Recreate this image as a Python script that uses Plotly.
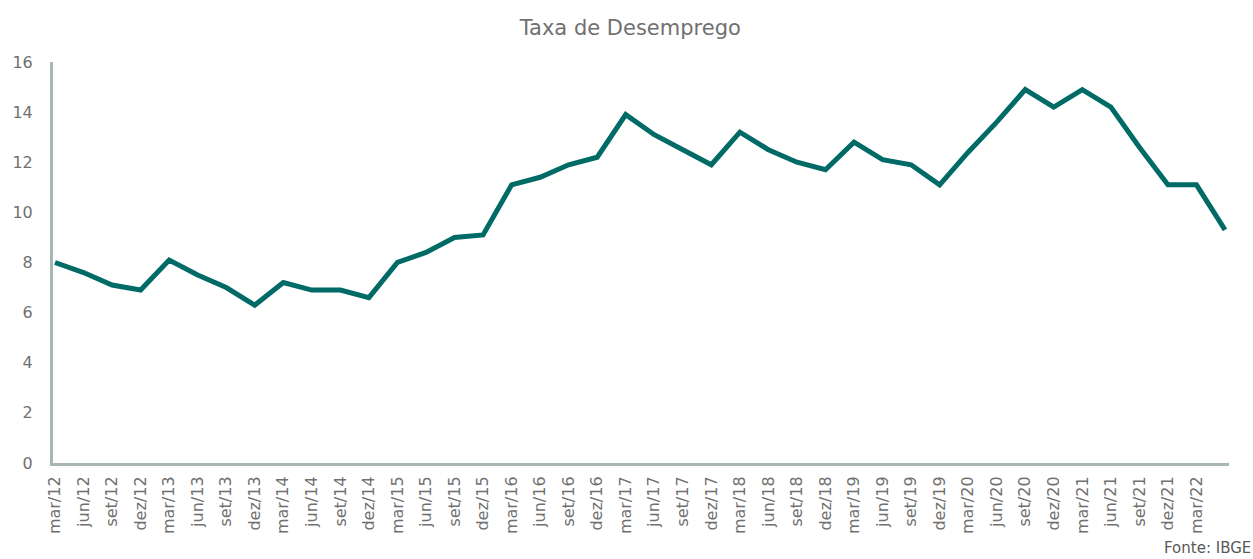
import plotly.graph_objects as go

# Trimestres (PNAD Contínua) e taxa de desemprego (%)
trimestres = [
    "mar/12", "jun/12", "set/12", "dez/12",
    "mar/13", "jun/13", "set/13", "dez/13",
    "mar/14", "jun/14", "set/14", "dez/14",
    "mar/15", "jun/15", "set/15", "dez/15",
    "mar/16", "jun/16", "set/16", "dez/16",
    "mar/17", "jun/17", "set/17", "dez/17",
    "mar/18", "jun/18", "set/18", "dez/18",
    "mar/19", "jun/19", "set/19", "dez/19",
    "mar/20", "jun/20", "set/20", "dez/20",
    "mar/21", "jun/21", "set/21", "dez/21",
    "mar/22", "jun/22",
]
taxa = [
    8.0, 7.6, 7.1, 6.9,
    8.1, 7.5, 7.0, 6.3,
    7.2, 6.9, 6.9, 6.6,
    8.0, 8.4, 9.0, 9.1,
    11.1, 11.4, 11.9, 12.2,
    13.9, 13.1, 12.5, 11.9,
    13.2, 12.5, 12.0, 11.7,
    12.8, 12.1, 11.9, 11.1,
    12.4, 13.6, 14.9, 14.2,
    14.9, 14.2, 12.6, 11.1,
    11.1, 9.3,
]
# o gráfico original só rotula até mar/22
rotulos = trimestres[:-1]

COR_LINHA = "#006b66"
COR_TEXTO = "#707070"
COR_EIXO = "#a9b7b2"
FONTE = "'DejaVu Sans', sans-serif"

pos = list(range(len(trimestres)))

fig = go.Figure()
fig.add_trace(go.Scatter(
    x=pos,
    y=taxa,
    mode="lines",
    line=dict(color=COR_LINHA, width=5),
    hovertext=trimestres,
    showlegend=False,
))

fig.update_xaxes(
    range=[-0.07, len(trimestres) - 1 + 0.14],
    tickmode="array",
    tickvals=pos[:len(rotulos)],
    ticktext=rotulos,
    tickangle=-90,
    tickfont=dict(size=16, color=COR_TEXTO),
    showline=True, linecolor=COR_EIXO, linewidth=3,
    showgrid=False, zeroline=False,
    ticks="", ticklabelstandoff=4,
)
fig.update_yaxes(
    range=[0, 16],
    dtick=2,
    tickfont=dict(size=16, color=COR_TEXTO),
    showline=True, linecolor=COR_EIXO, linewidth=3,
    showgrid=False, zeroline=False,
    ticks="", ticklabelstandoff=14,
)

fig.add_annotation(
    text="Fonte: IBGE",
    xref="paper", yref="paper",
    x=1.02, y=-0.212, xanchor="right", yanchor="middle",
    showarrow=False,
    font=dict(size=15, color="#595959", family=FONTE),
)

fig.update_layout(
    title=dict(
        text="Taxa de Desemprego",
        x=0.503, xanchor="center", y=0.95, yanchor="middle",
        font=dict(size=21, color=COR_TEXTO, family=FONTE),
    ),
    font=dict(family=FONTE),
    width=1253, height=559,
    margin=dict(l=48, r=24, t=62, b=96),
    plot_bgcolor="white",
    paper_bgcolor="white",
)

fig.write_html(
    "out.html",
    config={"displayModeBar": False},
    post_script="document.body.style.margin='0px';",
)
